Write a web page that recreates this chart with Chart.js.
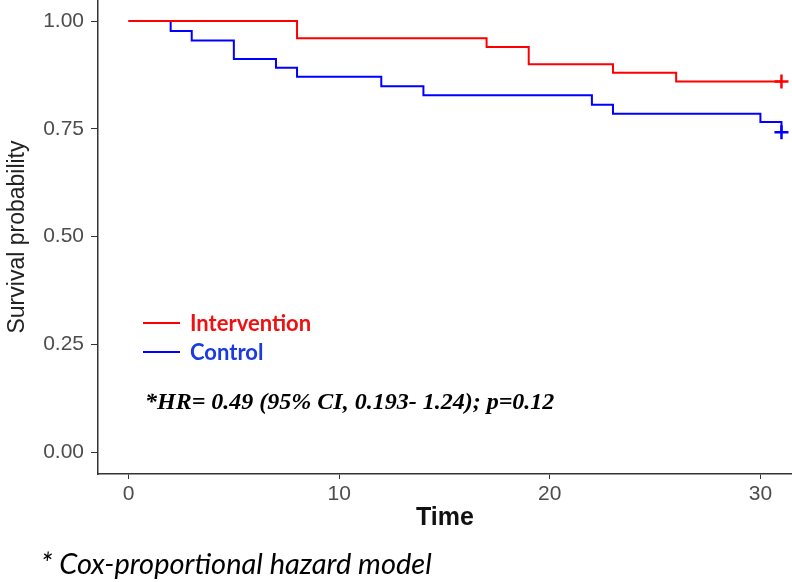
<!DOCTYPE html>
<html>
<head>
<meta charset="utf-8">
<script src="https://cdn.jsdelivr.net/npm/chart.js@4"></script>
<style>
    html, body { margin: 0; padding: 0; background: #fff; }
    #wrap { width: 792px; height: 582px; position: relative; }
</style>
</head>
<body>
<div id="wrap"><canvas id="kmChart"></canvas></div>
<script>
// Kaplan-Meier data
const interventionTime = [0, 8, 17, 19, 23, 26, 31];
const interventionSurv = [1.00, 0.96, 0.94, 0.90, 0.88, 0.86, 0.86];
const controlTime = [0, 2, 3, 5, 7, 8, 12, 14, 22, 23, 30, 31];
const controlSurv = [1.00, 0.977, 0.955, 0.912, 0.892, 0.871, 0.849, 0.828, 0.806, 0.785, 0.766, 0.742];
// censored marks at the end of follow-up
const censorTime = [31, 31];
const censorSurv = [0.86, 0.742];

const xTicks = [0, 10, 20, 30];
const yTicks = [0, 0.25, 0.5, 0.75, 1];

const legendLabels = ['Intervention', 'Control'];
const legendColors = ['#ee1111', '#1a3be0'];
const hrText = '*HR= 0.49 (95% CI, 0.193- 1.24); p=0.12';
const footnote = '* Cox-proportional hazard model';

const toPoints = (xs, ys) => xs.map((x, i) => ({ x: x, y: ys[i] }));

// extra texts: legend inside plot, HR note, footnote
const annotations = {
    id: 'annotations',
    afterDraw(chart) {
        const ctx = chart.ctx;
        ctx.save();
        legendLabels.forEach((label, i) => {
            const y = 323 + i * 29;
            ctx.strokeStyle = i === 0 ? '#ff0000' : '#0000ff';
            ctx.lineWidth = 2;
            ctx.beginPath();
            ctx.moveTo(143, y);
            ctx.lineTo(180, y);
            ctx.stroke();
            ctx.fillStyle = legendColors[i];
            ctx.font = 'bold 22px Lato';
            ctx.textBaseline = 'middle';
            ctx.textAlign = 'left';
            ctx.fillText(label, 190, y + 1);
        });

        ctx.fillStyle = '#000';
        ctx.font = 'italic bold 24px "Liberation Serif"';
        ctx.textBaseline = 'alphabetic';
        ctx.fillText(hrText, 145, 409);

        ctx.font = 'italic 29px Lato';
        ctx.fillText(footnote, 41, 574);
        ctx.restore();
    }
};

const ctx = document.getElementById('kmChart').getContext('2d');

new Chart(ctx, {
    type: 'line',
    data: {
        datasets: [
            {
                label: 'Intervention',
                data: toPoints(interventionTime, interventionSurv),
                borderColor: '#ff0000',
                borderWidth: 2,
                stepped: 'before',
                pointRadius: 0,
                fill: false
            },
            {
                label: 'Control',
                data: toPoints(controlTime, controlSurv),
                borderColor: '#0000ff',
                borderWidth: 2,
                stepped: 'before',
                pointRadius: 0,
                fill: false
            },
            {
                label: 'Censored',
                data: toPoints(censorTime, censorSurv),
                showLine: false,
                pointStyle: 'cross',
                pointRadius: 7,
                pointBorderWidth: 2.5,
                pointBorderColor: ['#ff0000', '#0000ff'],
                pointBackgroundColor: ['#ff0000', '#0000ff']
            }
        ]
    },
    options: {
        responsive: true,
        maintainAspectRatio: false,
        animation: false,
        layout: { padding: 0, autoPadding: false },
        plugins: {
            legend: { display: false },
            tooltip: { enabled: false }
        },
        scales: {
            x: {
                type: 'linear',
                min: -1.45,
                max: 31.5,
                afterBuildTicks: (scale) => { scale.ticks = xTicks.map(v => ({ value: v })); },
                afterFit: (scale) => {
                    scale.height = 108;
                    scale.paddingLeft = 0;
                    scale.paddingRight = 0;
                },
                ticks: {
                    color: '#4d4d4d',
                    font: { family: 'Liberation Sans', size: 21 },
                    padding: 3,
                    maxRotation: 0
                },
                grid: { drawOnChartArea: false, drawTicks: true, tickLength: 5, color: '#333' },
                border: { display: true, color: '#333', width: 1.5 },
                title: {
                    display: true,
                    text: 'Time',
                    color: '#111',
                    font: { family: 'Liberation Sans', size: 25, weight: 'bold' },
                    padding: { top: 0, bottom: 49 }
                }
            },
            y: {
                type: 'linear',
                min: -0.051,
                max: 1.049,
                afterBuildTicks: (scale) => { scale.ticks = yTicks.map(v => ({ value: v })); },
                afterFit: (scale) => {
                    scale.width = 98;
                    scale.paddingTop = 0;
                    scale.paddingBottom = 0;
                },
                ticks: {
                    color: '#4d4d4d',
                    font: { family: 'Liberation Sans', size: 21 },
                    padding: 7,
                    callback: (v) => Number(v).toFixed(2)
                },
                grid: { drawOnChartArea: false, drawTicks: true, tickLength: 7, color: '#333' },
                border: { display: true, color: '#333', width: 1.5 },
                title: {
                    display: true,
                    text: 'Survival probability',
                    color: '#222',
                    font: { family: 'Liberation Sans', size: 23 },
                    padding: { top: 4, bottom: 0 }
                }
            }
        }
    },
    plugins: [annotations]
});
</script>
</body>
</html>
